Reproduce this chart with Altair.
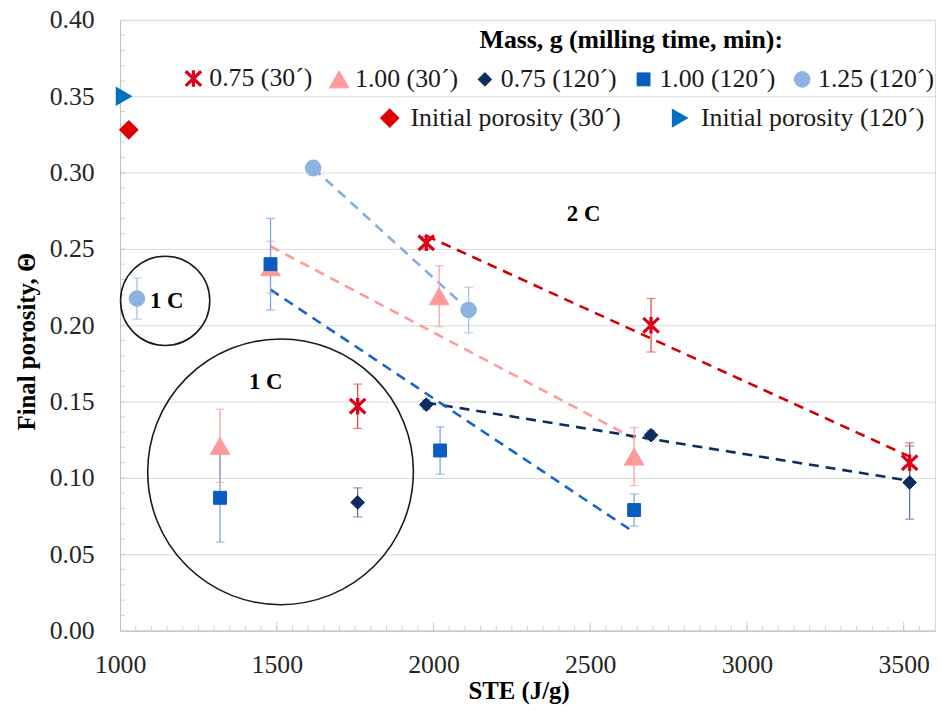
import altair as alt
import pandas as pd

SERIF = "Liberation Serif"

# ---------------- data ----------------
SERIES = ["0.75 (30´)", "1.00 (30´)", "0.75 (120´)", "1.00 (120´)", "1.25 (120´)"]

ste_075_30 = [1758, 1977, 2694, 3519]
por_075_30 = [0.147, 0.254, 0.200, 0.110]
err_075_30 = [0.0145, 0.004, 0.0175, 0.013]
trend_075_30 = [0, 1, 1, 1]

ste_100_30 = [1319, 1480, 2018, 2640]
por_100_30 = [0.121, 0.238, 0.219, 0.114]
err_100_30 = [0.024, 0.017, 0.020, 0.019]
trend_100_30 = [0, 1, 1, 1]

ste_075_120 = [1758, 1977, 2694, 3519]
por_075_120 = [0.084, 0.148, 0.128, 0.097]
err_075_120 = [0.0095, 0.003, 0.003, 0.024]
trend_075_120 = [0, 1, 1, 1]

ste_100_120 = [1319, 1480, 2021, 2640]
por_100_120 = [0.087, 0.240, 0.118, 0.079]
err_100_120 = [0.029, 0.030, 0.0155, 0.0105]
trend_100_120 = [0, 1, 1, 1]

ste_125_120 = [1054, 1616, 2112]
por_125_120 = [0.2175, 0.303, 0.210]
err_125_120 = [0.0135, 0.005, 0.015]
trend_125_120 = [0, 1, 1]

INI_SERIES = ["Initial porosity (30´)", "Initial porosity (120´)"]
ini_ste = [1028, 1013]
ini_por = [0.328, 0.350]

X_TICKS = [1000, 1500, 2000, 2500, 3000, 3500]
Y_TICKS = [0.00, 0.05, 0.10, 0.15, 0.20, 0.25, 0.30, 0.35, 0.40]
X_MINOR = list(range(1050, 3600, 50))
Y_MINOR = [i / 100 for i in range(1, 40)]

# annotations
circle_small_ste, circle_small_por = [1144], [0.216]
circle_big_ste, circle_big_por = [1512], [0.104]
note_text = ["1 C", "1 C", "2 C"]
note_ste = [1149, 1465, 2479]
note_por = [0.216, 0.163, 0.2727]
legend_title = ["Mass, g (milling time, min):"]
legend_title_ste = [2631]
legend_title_por = [0.387]

# ---------------- styles ----------------
XPATH = "M-0.85,-0.8L0.85,0.8M0.85,-0.8L-0.85,0.8M0,-0.9L0,0.9"
FILL = ["#dc0018", "#ff9a9a", "#0c2d5e", "#0b5cc0", "#8db3e2"]
SHAPES = [XPATH, "triangle-up", "diamond", "square", "circle"]
SIZES = [340, 390, 190, 170, 250]
SW = [3.2, 1, 1, 1, 1]
ERRC = ["#e84a4a", "#ffa0a0", "#5d7aa3", "#7aa5e0", "#a3c0e8"]
LINEC = ["#d40000", "#ff9a9a", "#0d2d5e", "#1565c8", "#84ace0"]
INI_COLORS = ["#e00000", "#0070c0"]
INI_SHAPES = ["diamond", "triangle-right"]
INI_SIZES = [400, 380]

W, H = 822, 616

# ---------------- frames ----------------
rows = []
for name, s, p, e, t in [
    (SERIES[0], ste_075_30, por_075_30, err_075_30, trend_075_30),
    (SERIES[1], ste_100_30, por_100_30, err_100_30, trend_100_30),
    (SERIES[2], ste_075_120, por_075_120, err_075_120, trend_075_120),
    (SERIES[3], ste_100_120, por_100_120, err_100_120, trend_100_120),
    (SERIES[4], ste_125_120, por_125_120, err_125_120, trend_125_120),
]:
    for a, b, c, d in zip(s, p, e, t):
        rows.append({"series": name, "ste": a, "por": b, "err": c, "trend": d})
df = pd.DataFrame(rows)
df_ini = pd.DataFrame({"series": INI_SERIES, "ste": ini_ste, "por": ini_por})
df_notes = pd.DataFrame({"label": note_text, "ste": note_ste, "por": note_por})
df_title = pd.DataFrame({"label": legend_title, "ste": legend_title_ste, "por": legend_title_por})
df_cs = pd.DataFrame({"ste": circle_small_ste, "por": circle_small_por})
df_cb = pd.DataFrame({"ste": circle_big_ste, "por": circle_big_por})
df_xm = pd.DataFrame({"ste": X_MINOR})
df_ym = pd.DataFrame({"por": Y_MINOR})
df_xmaj = pd.DataFrame({"ste": X_TICKS[1:]})

# ---------------- scales/axes ----------------
xs = alt.Scale(domain=[1000, 3600], nice=False, zero=False)
ys = alt.Scale(domain=[0, 0.40], nice=False, zero=False)

xaxis = alt.Axis(
    title="STE (J/g)", values=X_TICKS, grid=False, ticks=False, tickSize=0,
    labelPadding=21, labelFont=SERIF, labelFontSize=26, labelColor="#262626",
    labelFlush=False, labelOverlap=False,
    domainColor="#bfbfbf", titleFont=SERIF, titleFontSize=25, titleFontWeight="bold",
    titleColor="black", titleX=402, titleY=68, titleBaseline="alphabetic",
    titleAlign="center", format="d",
)
yaxis = alt.Axis(
    title="Final porosity, Θ", values=Y_TICKS, format=".2f", grid=True,
    gridColor="#d9d9d9", gridWidth=1, ticks=False, tickSize=0, labelPadding=26,
    labelFlush=False, labelOverlap=False,
    labelFont=SERIF, labelFontSize=26, labelColor="#262626", domainColor="#bfbfbf",
    titleFont=SERIF, titleFontSize=25, titleFontWeight="bold", titleColor="black",
    titleX=-86, titleY=324, titleBaseline="alphabetic", titleAlign="center", titleAngle=270,
)


def X(field="ste"):
    return alt.X(f"{field}:Q", scale=xs, axis=xaxis)


def Y(field="por"):
    return alt.Y(f"{field}:Q", scale=ys, axis=yaxis)


layers = []

# inward minor/major ticks
layers.append(alt.Chart(df_xm).mark_tick(orient="vertical", size=5, thickness=1, color="#bfbfbf")
              .encode(x=X(), y=alt.value(H - 2.5)))
layers.append(alt.Chart(df_xmaj).mark_tick(orient="vertical", size=9, thickness=1, color="#bfbfbf")
              .encode(x=X(), y=alt.value(H - 4.5)))
layers.append(alt.Chart(df_ym).mark_tick(orient="horizontal", size=5, thickness=1, color="#bfbfbf")
              .encode(y=Y(), x=alt.value(2.5)))

# annotation circles
layers.append(alt.Chart(df_cs).mark_point(shape="circle", size=8100, filled=False, stroke="#1a1a1a",
                                          strokeWidth=1.6, opacity=1).encode(x=X(), y=Y()))
layers.append(alt.Chart(df_cb).mark_point(shape="circle", size=71824, filled=False, stroke="#1a1a1a",
                                          strokeWidth=1.6, opacity=1).encode(x=X(), y=Y()))

# regression (trend) lines
for s, lc in zip(SERIES, LINEC):
    layers.append(
        alt.Chart(df)
        .transform_filter((alt.datum.series == s) & (alt.datum.trend == 1))
        .transform_regression("ste", "por")
        .mark_line(color=lc, strokeDash=[10, 7], strokeWidth=2.6)
        .encode(x=X(), y=Y())
    )

# error bars
for s, ec in zip(SERIES, ERRC):
    b = (alt.Chart(df).transform_filter(alt.datum.series == s)
         .transform_calculate(lo="datum.por - datum.err", hi="datum.por + datum.err"))
    layers.append(b.mark_rule(color=ec, strokeWidth=1.3).encode(x=X(), y=Y("lo"), y2="hi:Q"))
    layers.append(b.transform_fold(["lo", "hi"], as_=["k", "v"])
                  .mark_tick(orient="horizontal", size=9, thickness=1.3, color=ec)
                  .encode(x=X(), y=Y("v")))

leg1 = alt.Legend(orient="none", legendX=61, legendY=46, direction="horizontal", columns=5,
                  columnPadding=14, title=None, labelFont=SERIF, labelFontSize=26,
                  labelColor="#1a1a1a", labelOffset=3, padding=0, symbolOpacity=1,
                  labelLimit=400)
leg2 = alt.Legend(orient="none", legendX=259, legendY=86, direction="horizontal", columns=2,
                  columnPadding=46, title=None, labelFont=SERIF, labelFontSize=26,
                  labelColor="#1a1a1a", labelOffset=8, padding=0, symbolOpacity=1,
                  labelLimit=400)

pts = alt.Chart(df).mark_point(opacity=1, filled=False).encode(
    x=X(), y=Y(),
    fill=alt.Fill("series:N", scale=alt.Scale(domain=SERIES, range=FILL), legend=leg1),
    stroke=alt.Stroke("series:N", scale=alt.Scale(domain=SERIES, range=FILL), legend=leg1),
    shape=alt.Shape("series:N", scale=alt.Scale(domain=SERIES, range=SHAPES), legend=leg1),
    size=alt.Size("series:N", scale=alt.Scale(type="ordinal", domain=SERIES, range=SIZES), legend=leg1),
    strokeWidth=alt.StrokeWidth("series:N", scale=alt.Scale(type="ordinal", domain=SERIES, range=SW),
                                legend=leg1),
)
layers.append(pts)

ini = alt.Chart(df_ini).mark_point(opacity=1, filled=True).encode(
    x=X(), y=Y(),
    color=alt.Color("series:N", scale=alt.Scale(domain=INI_SERIES, range=INI_COLORS), legend=leg2),
    shape=alt.Shape("series:N", scale=alt.Scale(domain=INI_SERIES, range=INI_SHAPES), legend=leg2),
    size=alt.Size("series:N", scale=alt.Scale(type="ordinal", domain=INI_SERIES, range=INI_SIZES),
                  legend=leg2),
)
layers.append(ini)

layers.append(alt.Chart(df_notes).mark_text(font=SERIF, fontSize=23, fontWeight="bold", color="black",
                                            align="center", baseline="middle")
              .encode(x=X(), y=Y(), text="label:N"))
layers.append(alt.Chart(df_title).mark_text(font=SERIF, fontSize=26, fontWeight="bold", color="black",
                                            align="center", baseline="middle")
              .encode(x=X(), y=Y(), text="label:N"))

chart = (
    alt.layer(*layers)
    .resolve_scale(fill="independent", stroke="independent", shape="independent",
                   size="independent", strokeWidth="independent", color="independent")
    .properties(width=W, height=H, autosize=alt.AutoSizeParams(type="none"),
                padding={"left": 113, "top": 9, "right": 4, "bottom": 72},
                background="white")
    .configure_view(stroke="#d9d9d9", strokeWidth=1)
)

chart.save("out.html", embed_options={"renderer": "svg", "actions": False})
